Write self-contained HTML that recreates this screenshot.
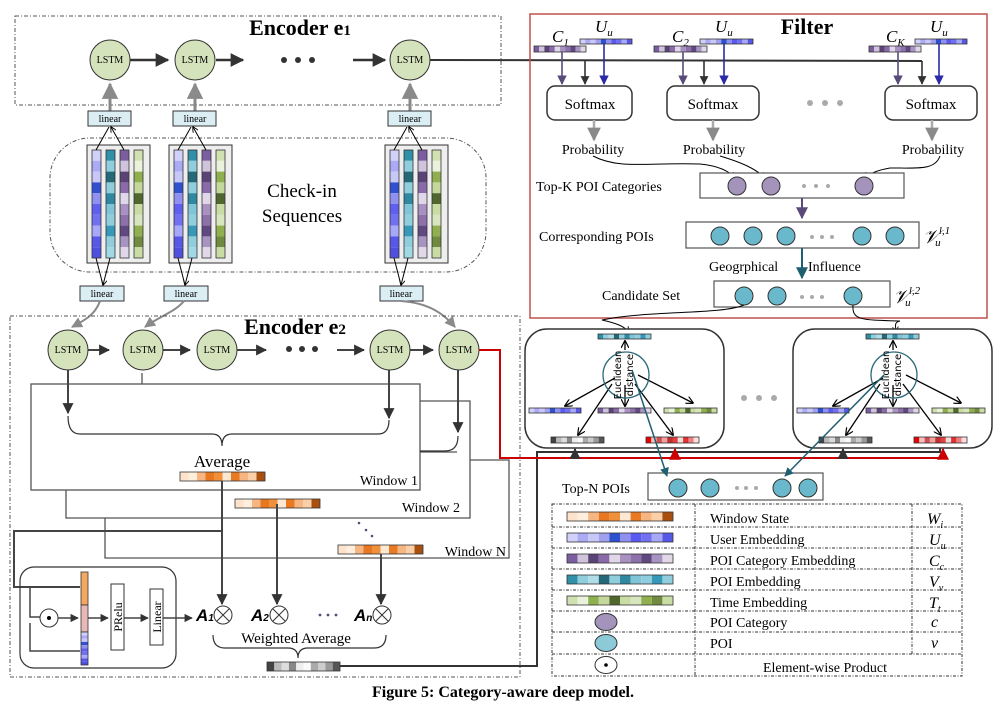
<!DOCTYPE html>
<html><head><meta charset="utf-8"><style>
body{margin:0;background:#fff}
svg{display:block;font-family:"Liberation Serif",serif}
</style></head><body>
<svg width="1006" height="711" viewBox="0 0 1006 711" xmlns="http://www.w3.org/2000/svg">
<defs>
<marker id="mk" viewBox="0 0 10 10" refX="9" refY="5" markerWidth="5.5" markerHeight="5.5" orient="auto"><path d="M0,0L10,5L0,10z" fill="#333"/></marker>
<marker id="mkg" viewBox="0 0 10 10" refX="9" refY="5" markerWidth="5.5" markerHeight="5.5" orient="auto"><path d="M0,0L10,5L0,10z" fill="#8a8a8a"/></marker>
<marker id="mkb" viewBox="0 0 10 10" refX="9" refY="5" markerWidth="6" markerHeight="6" orient="auto"><path d="M0,0L10,5L0,10z" fill="#2a2aa8"/></marker>
<marker id="mkp" viewBox="0 0 10 10" refX="9" refY="5" markerWidth="6" markerHeight="6" orient="auto"><path d="M0,0L10,5L0,10z" fill="#5a4a7a"/></marker>
<marker id="mkt" viewBox="0 0 10 10" refX="9" refY="5" markerWidth="6" markerHeight="6" orient="auto"><path d="M0,0L10,5L0,10z" fill="#1f5f6f"/></marker>
<marker id="mkr" viewBox="0 0 10 10" refX="9" refY="5" markerWidth="6" markerHeight="6" orient="auto"><path d="M0,0L10,5L0,10z" fill="#c00"/></marker>
<marker id="mks" viewBox="0 0 10 10" refX="9" refY="5" markerWidth="6" markerHeight="6" orient="auto"><path d="M0,0L10,5L0,10" fill="none" stroke="#000" stroke-width="1.5"/></marker>
<pattern id="pOr" patternUnits="objectBoundingBox" patternContentUnits="objectBoundingBox" width="1" height="1">
<rect width=".1" height="1" fill="#fde3cc"/><rect x=".1" width=".1" height="1" fill="#fdeedd"/><rect x=".2" width=".1" height="1" fill="#f7b581"/><rect x=".3" width=".1" height="1" fill="#e87722"/><rect x=".4" width=".1" height="1" fill="#f0903a"/><rect x=".5" width=".1" height="1" fill="#fde8d4"/><rect x=".6" width=".1" height="1" fill="#ea7a22"/><rect x=".7" width=".1" height="1" fill="#f7b581"/><rect x=".8" width=".1" height="1" fill="#fbd0a8"/><rect x=".9" width=".1" height="1" fill="#a94f10"/></pattern>
<pattern id="pBl" patternUnits="objectBoundingBox" patternContentUnits="objectBoundingBox" width="1" height="1">
<rect width=".1" height="1" fill="#d0d0f8"/><rect x=".1" width=".1" height="1" fill="#aaaaf5"/><rect x=".2" width=".1" height="1" fill="#c8c8f8"/><rect x=".3" width=".1" height="1" fill="#a0a0ee"/><rect x=".4" width=".1" height="1" fill="#2c50d0"/><rect x=".5" width=".1" height="1" fill="#9090f0"/><rect x=".6" width=".1" height="1" fill="#5a5af0"/><rect x=".7" width=".1" height="1" fill="#7070f0"/><rect x=".8" width=".1" height="1" fill="#a8a8f8"/><rect x=".9" width=".1" height="1" fill="#5858e8"/></pattern>
<pattern id="pPu" patternUnits="objectBoundingBox" patternContentUnits="objectBoundingBox" width="1" height="1">
<rect width=".1" height="1" fill="#7a5ea0"/><rect x=".1" width=".1" height="1" fill="#d0c4dc"/><rect x=".2" width=".1" height="1" fill="#5a4476"/><rect x=".3" width=".1" height="1" fill="#8a6aa8"/><rect x=".4" width=".1" height="1" fill="#e0d8e8"/><rect x=".5" width=".1" height="1" fill="#a890c0"/><rect x=".6" width=".1" height="1" fill="#8e70aa"/><rect x=".7" width=".1" height="1" fill="#604880"/><rect x=".8" width=".1" height="1" fill="#a894c0"/><rect x=".9" width=".1" height="1" fill="#e0d8e8"/></pattern>
<pattern id="pTe" patternUnits="objectBoundingBox" patternContentUnits="objectBoundingBox" width="1" height="1">
<rect width=".1" height="1" fill="#3090a8"/><rect x=".1" width=".1" height="1" fill="#90cede"/><rect x=".2" width=".1" height="1" fill="#b0dde8"/><rect x=".3" width=".1" height="1" fill="#256878"/><rect x=".4" width=".1" height="1" fill="#90cede"/><rect x=".5" width=".1" height="1" fill="#3088a0"/><rect x=".6" width=".1" height="1" fill="#80c4d8"/><rect x=".7" width=".1" height="1" fill="#90cede"/><rect x=".8" width=".1" height="1" fill="#3898b8"/><rect x=".9" width=".1" height="1" fill="#90cede"/></pattern>
<pattern id="pGr" patternUnits="objectBoundingBox" patternContentUnits="objectBoundingBox" width="1" height="1">
<rect width=".1" height="1" fill="#d0e0b0"/><rect x=".1" width=".1" height="1" fill="#eaf2dc"/><rect x=".2" width=".1" height="1" fill="#90b050"/><rect x=".3" width=".1" height="1" fill="#c4d89c"/><rect x=".4" width=".1" height="1" fill="#506830"/><rect x=".5" width=".1" height="1" fill="#c8dca4"/><rect x=".6" width=".1" height="1" fill="#d8e6c0"/><rect x=".7" width=".1" height="1" fill="#90b050"/><rect x=".8" width=".1" height="1" fill="#708a40"/><rect x=".9" width=".1" height="1" fill="#c8dca4"/></pattern>
<pattern id="pGy" patternUnits="objectBoundingBox" patternContentUnits="objectBoundingBox" width="1" height="1">
<rect width=".1" height="1" fill="#444"/><rect x=".1" width=".1" height="1" fill="#bbb"/><rect x=".2" width=".1" height="1" fill="#ddd"/><rect x=".3" width=".1" height="1" fill="#888"/><rect x=".4" width=".1" height="1" fill="#eee"/><rect x=".5" width=".1" height="1" fill="#fafafa"/><rect x=".6" width=".1" height="1" fill="#aaa"/><rect x=".7" width=".1" height="1" fill="#ccc"/><rect x=".8" width=".1" height="1" fill="#999"/><rect x=".9" width=".1" height="1" fill="#555"/></pattern>
<pattern id="pRd" patternUnits="objectBoundingBox" patternContentUnits="objectBoundingBox" width="1" height="1">
<rect width=".1" height="1" fill="#e00"/><rect x=".1" width=".1" height="1" fill="#f4c0c0"/><rect x=".2" width=".1" height="1" fill="#d05050"/><rect x=".3" width=".1" height="1" fill="#f0a0a0"/><rect x=".4" width=".1" height="1" fill="#c03030"/><rect x=".5" width=".1" height="1" fill="#e04040"/><rect x=".6" width=".1" height="1" fill="#fadada"/><rect x=".7" width=".1" height="1" fill="#e03030"/><rect x=".8" width=".1" height="1" fill="#f08080"/><rect x=".9" width=".1" height="1" fill="#fce0e0"/></pattern>
<pattern id="vBl" patternUnits="objectBoundingBox" patternContentUnits="objectBoundingBox" width="1" height="1">
<rect height=".1" width="1" fill="#d0d0f8"/><rect y=".1" height=".1" width="1" fill="#aaaaf5"/><rect y=".2" height=".1" width="1" fill="#c8c8f8"/><rect y=".3" height=".1" width="1" fill="#3050d0"/><rect y=".4" height=".1" width="1" fill="#9090f0"/><rect y=".5" height=".1" width="1" fill="#6060f0"/><rect y=".6" height=".1" width="1" fill="#7070f0"/><rect y=".7" height=".1" width="1" fill="#a8a8f8"/><rect y=".8" height=".1" width="1" fill="#5858e8"/><rect y=".9" height=".1" width="1" fill="#5050e0"/></pattern>
<pattern id="vTe" patternUnits="objectBoundingBox" patternContentUnits="objectBoundingBox" width="1" height="1">
<rect height=".1" width="1" fill="#3090a8"/><rect y=".1" height=".1" width="1" fill="#90cede"/><rect y=".2" height=".1" width="1" fill="#256878"/><rect y=".3" height=".1" width="1" fill="#90cede"/><rect y=".4" height=".1" width="1" fill="#3088a0"/><rect y=".5" height=".1" width="1" fill="#80c4d8"/><rect y=".6" height=".1" width="1" fill="#90cede"/><rect y=".7" height=".1" width="1" fill="#3898b8"/><rect y=".8" height=".1" width="1" fill="#90cede"/><rect y=".9" height=".1" width="1" fill="#a0d8e6"/></pattern>
<pattern id="vPu" patternUnits="objectBoundingBox" patternContentUnits="objectBoundingBox" width="1" height="1">
<rect height=".1" width="1" fill="#7a5ea0"/><rect y=".1" height=".1" width="1" fill="#d0c4dc"/><rect y=".2" height=".1" width="1" fill="#5a4476"/><rect y=".3" height=".1" width="1" fill="#8a6aa8"/><rect y=".4" height=".1" width="1" fill="#e0d8e8"/><rect y=".5" height=".1" width="1" fill="#a890c0"/><rect y=".6" height=".1" width="1" fill="#8e70aa"/><rect y=".7" height=".1" width="1" fill="#604880"/><rect y=".8" height=".1" width="1" fill="#a894c0"/><rect y=".9" height=".1" width="1" fill="#e0d8e8"/></pattern>
<pattern id="vGr" patternUnits="objectBoundingBox" patternContentUnits="objectBoundingBox" width="1" height="1">
<rect height=".1" width="1" fill="#d0e0b0"/><rect y=".1" height=".1" width="1" fill="#eaf2dc"/><rect y=".2" height=".1" width="1" fill="#90b050"/><rect y=".3" height=".1" width="1" fill="#c4d89c"/><rect y=".4" height=".1" width="1" fill="#506830"/><rect y=".5" height=".1" width="1" fill="#c8dca4"/><rect y=".6" height=".1" width="1" fill="#d8e6c0"/><rect y=".7" height=".1" width="1" fill="#90b050"/><rect y=".8" height=".1" width="1" fill="#708a40"/><rect y=".9" height=".1" width="1" fill="#c8dca4"/></pattern>
<g id="chk">
<rect x="0" y="0" width="63" height="118" fill="#eee" stroke="#333" stroke-width="1"/>
<rect x="5" y="5" width="9" height="108" fill="url(#vBl)" stroke="#333" stroke-width=".8"/>
<rect x="19" y="5" width="9" height="108" fill="url(#vTe)" stroke="#333" stroke-width=".8"/>
<rect x="33" y="5" width="9" height="108" fill="url(#vPu)" stroke="#333" stroke-width=".8"/>
<rect x="47" y="5" width="9" height="108" fill="url(#vGr)" stroke="#333" stroke-width=".8"/>
<path d="M9,5L22,-18M37,5L24,-18" stroke="#000" stroke-width="1" marker-end="url(#mks)"/>
<path d="M9,113L16,140M23,113L16,140" stroke="#000" stroke-width="1" marker-end="url(#mks)"/>
</g>
</defs>

<!-- Encoder e1 -->
<rect x="15" y="16" width="486" height="89" fill="none" stroke="#555" stroke-dasharray="4,2,1,2"/>
<text x="300" y="35" font-size="22" font-weight="bold" text-anchor="middle">Encoder e<tspan font-size="15">1</tspan></text>
<g stroke="#333" stroke-width="2.5">
<path d="M130,60L168,60" marker-end="url(#mk)"/>
<path d="M216,60L243,60" marker-end="url(#mk)"/>
<path d="M353,60L385,60" marker-end="url(#mk)"/>
</g>
<g fill="#333"><circle cx="284" cy="60" r="3"/><circle cx="298" cy="60" r="3"/><circle cx="312" cy="60" r="3"/></g>
<path d="M430,60L922,61" stroke="#333" stroke-width="2"/>
<g stroke="#888" stroke-width="3">
<path d="M110,111L110,84" marker-end="url(#mkg)"/>
<path d="M195,111L195,84" marker-end="url(#mkg)"/>
<path d="M410,111L410,84" marker-end="url(#mkg)"/>
</g>
<g fill="#d5e3bd" stroke="#333" stroke-width="1">
<circle cx="110" cy="60" r="20"/><circle cx="195" cy="60" r="20"/><circle cx="410" cy="60" r="20"/>
</g>
<g font-size="10" text-anchor="middle"><text x="110" y="63">LSTM</text><text x="195" y="63">LSTM</text><text x="410" y="63">LSTM</text></g>

<!-- linear boxes -->
<g fill="#dbeef4" stroke="#333" stroke-width="1">
<rect x="88" y="111" width="43" height="15"/><rect x="173" y="111" width="43" height="15"/><rect x="388" y="111" width="43" height="15"/>
<rect x="80" y="286" width="44" height="15"/><rect x="164" y="286" width="44" height="15"/><rect x="380" y="286" width="43" height="15"/>
</g>
<g font-size="10" text-anchor="middle">
<text x="110" y="122">linear</text><text x="195" y="122">linear</text><text x="410" y="122">linear</text>
<text x="102" y="297">linear</text><text x="186" y="297">linear</text><text x="401" y="297">linear</text>
</g>

<!-- check-in -->
<rect x="50" y="138" width="436" height="134" rx="40" fill="none" stroke="#555" stroke-dasharray="4,2,1,2"/>
<use href="#chk" x="87" y="145"/><use href="#chk" x="169" y="145"/><use href="#chk" x="385" y="145"/>
<text x="302" y="197" font-size="19" text-anchor="middle">Check-in</text>
<text x="302" y="222" font-size="19" text-anchor="middle">Sequences</text>

<!-- curved gray arrows -->
<g stroke="#888" stroke-width="2" fill="none">
<path d="M100,301C95,315 85,320 72,327" marker-end="url(#mkg)"/>
<path d="M184,301C175,312 160,316 145,327" marker-end="url(#mkg)"/>
<path d="M401,301C430,303 445,315 455,327" marker-end="url(#mkg)"/>
</g>

<!-- Encoder e2 -->
<rect x="10" y="316" width="510" height="361" fill="none" stroke="#555" stroke-dasharray="4,2,1,2"/>
<text x="295" y="334" font-size="22" font-weight="bold" text-anchor="middle">Encoder e<tspan font-size="15">2</tspan></text>
<!-- windows -->
<g fill="none" stroke="#555" stroke-width="1.3">
<rect x="31" y="384" width="389" height="106"/>
<path d="M420,401L470,401L470,518L66,518L66,490"/>
<path d="M420,452L457,452"/>
<path d="M470,460L509,460L509,558L105,558L105,518"/>
<path d="M142,373L142,384"/>
</g>
<g stroke="#444" stroke-width="2" fill="none">
<path d="M88,350L109,350" marker-end="url(#mk)"/>
<path d="M163,350L190,350" marker-end="url(#mk)"/>
<path d="M237,350L266,350" marker-end="url(#mk)"/>
<path d="M337,350L364,350" marker-end="url(#mk)"/>
<path d="M410,350L433,350" marker-end="url(#mk)"/>
<path d="M68,370L68,413" marker-end="url(#mk)"/>
<path d="M389,370L389,418" marker-end="url(#mk)"/>
<path d="M458,370L458,432" marker-end="url(#mk)"/>
</g>
<g fill="#333"><circle cx="289" cy="349" r="3"/><circle cx="302" cy="349" r="3"/><circle cx="315" cy="349" r="3"/></g>
<g fill="#d5e3bd" stroke="#333" stroke-width="1">
<circle cx="68" cy="350" r="20"/><circle cx="143" cy="350" r="20"/><circle cx="217" cy="350" r="20"/><circle cx="390" cy="350" r="20"/><circle cx="459" cy="350" r="20"/>
</g>
<g font-size="10" text-anchor="middle"><text x="68" y="353">LSTM</text><text x="143" y="353">LSTM</text><text x="217" y="353">LSTM</text><text x="390" y="353">LSTM</text><text x="459" y="353">LSTM</text></g>
<!-- braces -->
<g fill="none" stroke="#333" stroke-width="1.2">
<path d="M68,416Q68,434 80,434L212,434Q222,434 222,446Q222,434 232,434L378,434Q389,434 389,420"/>
<path d="M458,436Q458,451 445,451L420,451"/>
<path d="M213,635Q213,648 225,648L288,648Q298,648 298,658Q298,648 308,648L374,648Q386,648 386,635"/>
</g>
<text x="222" y="467" font-size="17" text-anchor="middle">Average</text>
<rect x="180" y="472" width="85" height="9" fill="url(#pOr)" stroke="#333" stroke-width=".8"/>
<text x="418" y="485" font-size="14" text-anchor="end">Window 1</text>
<rect x="235" y="499" width="85" height="9" fill="url(#pOr)" stroke="#333" stroke-width=".8"/>
<text x="460" y="512" font-size="14" text-anchor="end">Window 2</text>
<rect x="338" y="545" width="85" height="9" fill="url(#pOr)" stroke="#333" stroke-width=".8"/>
<text x="506" y="556" font-size="14" text-anchor="end">Window N</text>
<g fill="#5a4a7a"><circle cx="359" cy="523" r="1.3"/><circle cx="366" cy="530" r="1.3"/><circle cx="372" cy="536" r="1.3"/></g>
<g stroke="#444" stroke-width="2" fill="none">
<path d="M222,481L222,604" marker-end="url(#mk)"/>
<path d="M277,504L277,604" marker-end="url(#mk)"/>
<path d="M381,554L381,604" marker-end="url(#mk)"/>
<path d="M222,531L14,531L14,587L80,587"/>
</g>
<!-- multiply -->
<g fill="#fff" stroke="#333" stroke-width="1"><circle cx="223" cy="615" r="9"/><circle cx="279" cy="615" r="9"/><circle cx="382" cy="615" r="9"/></g>
<g stroke="#333" stroke-width="1"><path d="M217,609L229,621M229,609L217,621M273,609L285,621M285,609L273,621M376,609L388,621M388,609L376,621"/></g>
<g font-size="17" font-style="italic" font-family="Liberation Sans,sans-serif" font-weight="bold"><text x="196" y="621">A<tspan font-size="10">1</tspan></text><text x="251" y="621">A<tspan font-size="10">2</tspan></text><text x="354" y="621">A<tspan font-size="10">n</tspan></text></g>
<g fill="#5a4a7a"><circle cx="320" cy="615" r="1.4"/><circle cx="328" cy="615" r="1.4"/><circle cx="336" cy="615" r="1.4"/></g>
<text x="296" y="643" font-size="15" text-anchor="middle">Weighted Average</text>
<rect x="267" y="662" width="73" height="9" fill="url(#pGy)" stroke="#333" stroke-width=".8"/>

<!-- attention module -->
<rect x="20" y="567" width="156" height="101" rx="14" fill="none" stroke="#333" stroke-width="1.2"/>
<g fill="none" stroke="#444" stroke-width="1.5">
<path d="M30,587L30,617L40,617"/>
<path d="M30,623L30,651L80,651"/>
<path d="M58,618L78,618" marker-end="url(#mk)"/>
<path d="M87,618L108,618" marker-end="url(#mk)"/>
<path d="M122,618L148,618" marker-end="url(#mk)"/>
<path d="M162,618L192,618" marker-end="url(#mk)"/>
</g>
<circle cx="49" cy="618" r="9" fill="#fff" stroke="#333"/><circle cx="49" cy="618" r="2" fill="#000"/>
<rect x="81" y="572" width="7" height="33" style="fill:#f4a860" stroke="#333" stroke-width=".8"/>
<rect x="81" y="605" width="7" height="27" fill="#e8b8b8" stroke="#333" stroke-width=".8"/>
<rect x="81" y="632" width="7" height="33" fill="url(#vBl)" stroke="#333" stroke-width=".8"/>
<rect x="111" y="584" width="13" height="66" fill="#fff" stroke="#333"/>
<rect x="150" y="589" width="13" height="56" fill="#fff" stroke="#333"/>
<text transform="translate(122,617) rotate(-90)" font-size="12" text-anchor="middle">PRelu</text>
<text transform="translate(161,617) rotate(-90)" font-size="12" text-anchor="middle">Linear</text>

<!-- connections to right -->
<path d="M340,666L537,666L537,452L940,452L940,446" fill="none" stroke="#333" stroke-width="2"/>
<path d="M479,350L500,350L500,458L940,458" fill="none" stroke="#c00" stroke-width="2"/>

<!-- Filter -->
<rect x="530" y="14" width="457" height="304" fill="none" stroke="#c0504d" stroke-width="1.5"/>
<text x="807" y="34" font-size="22" font-weight="bold" text-anchor="middle">Filter</text>
<g font-size="17" font-style="italic">
<text x="552" y="42">C<tspan font-size="11" dy="4">1</tspan></text><text x="595" y="32">U<tspan font-size="11" dy="4">u</tspan></text>
<text x="672" y="42">C<tspan font-size="11" dy="4">2</tspan></text><text x="715" y="32">U<tspan font-size="11" dy="4">u</tspan></text>
<text x="886" y="42">C<tspan font-size="11" dy="4">K</tspan></text><text x="930" y="32">U<tspan font-size="11" dy="4">u</tspan></text>
</g>
<g stroke="#333" stroke-width=".8">
<rect x="534" y="46" width="52" height="6" fill="url(#pPu)"/><rect x="580" y="39" width="52" height="5" fill="url(#pBl)"/>
<rect x="654" y="46" width="53" height="6" fill="url(#pPu)"/><rect x="700" y="39" width="53" height="5" fill="url(#pBl)"/>
<rect x="869" y="46" width="52" height="6" fill="url(#pPu)"/><rect x="915" y="39" width="52" height="5" fill="url(#pBl)"/>
</g>
<g stroke-width="1.6" fill="none">
<path d="M562,52L562,84" stroke="#5a4a7a" marker-end="url(#mkp)"/><path d="M604,44L604,84" stroke="#2a2aa8" marker-end="url(#mkb)"/><path d="M585,61L585,84" stroke="#333" marker-end="url(#mk)"/>
<path d="M683,52L683,84" stroke="#5a4a7a" marker-end="url(#mkp)"/><path d="M724,44L724,84" stroke="#2a2aa8" marker-end="url(#mkb)"/><path d="M704,61L704,84" stroke="#333" marker-end="url(#mk)"/>
<path d="M898,52L898,84" stroke="#5a4a7a" marker-end="url(#mkp)"/><path d="M939,44L939,84" stroke="#2a2aa8" marker-end="url(#mkb)"/><path d="M922,61L922,84" stroke="#333" marker-end="url(#mk)"/>
</g>
<g fill="#fff" stroke="#333" stroke-width="1.5">
<rect x="547" y="86" width="85" height="34" rx="8"/><rect x="667" y="86" width="92" height="34" rx="8"/><rect x="885" y="86" width="92" height="34" rx="8"/>
</g>
<g font-size="15" text-anchor="middle"><text x="590" y="109">Softmax</text><text x="713" y="109">Softmax</text><text x="931" y="109">Softmax</text></g>
<g fill="#aaa"><circle cx="810" cy="103" r="3"/><circle cx="825" cy="103" r="3"/><circle cx="840" cy="103" r="3"/></g>
<g stroke="#aaa" stroke-width="2.5"><path d="M594,120L594,140" marker-end="url(#mkg)"/><path d="M713,120L713,140" marker-end="url(#mkg)"/><path d="M932,120L932,140" marker-end="url(#mkg)"/></g>
<g font-size="14" text-anchor="middle"><text x="593" y="154">Probability</text><text x="714" y="154">Probability</text><text x="933" y="154">Probability</text></g>
<g fill="none" stroke="#000" stroke-width="1">
<path d="M593,156C620,170 650,162 700,164C720,166 730,172 735,178" marker-end="url(#mks)"/>
<path d="M720,156C740,162 755,168 765,178" marker-end="url(#mks)"/>
<path d="M940,156C935,170 920,168 890,168C878,170 868,174 866,178" marker-end="url(#mks)"/>
</g>
<text x="536" y="191" font-size="14">Top-K POI Categories</text>
<rect x="700" y="173" width="204" height="25" fill="#fff" stroke="#555" stroke-width="1.2"/>
<g fill="#a494bc" stroke="#333"><circle cx="737" cy="186" r="9"/><circle cx="771" cy="186" r="9"/><circle cx="864" cy="186" r="9"/></g>
<g fill="#aaa"><circle cx="804" cy="186" r="2"/><circle cx="816" cy="186" r="2"/><circle cx="828" cy="186" r="2"/></g>
<path d="M802,198L802,218" stroke="#5a4a7a" stroke-width="2" marker-end="url(#mkp)"/>
<text x="539" y="241" font-size="14">Corresponding POIs</text>
<rect x="686" y="222" width="233" height="26" fill="#fff" stroke="#555" stroke-width="1.2"/>
<g fill="#6ab8cc" stroke="#333"><circle cx="720" cy="236" r="9"/><circle cx="753" cy="236" r="9"/><circle cx="786" cy="236" r="9"/><circle cx="862" cy="236" r="9"/><circle cx="895" cy="236" r="9"/></g>
<g fill="#aaa"><circle cx="812" cy="237" r="2"/><circle cx="822" cy="237" r="2"/><circle cx="832" cy="237" r="2"/></g>
<text x="923" y="243" font-size="19" font-style="italic">𝒱<tspan font-size="11" dy="-9">l,1</tspan><tspan font-size="11" dx="-15" dy="12">u</tspan></text>
<path d="M802,248L802,278" stroke="#1f5f6f" stroke-width="2" marker-end="url(#mkt)"/>
<text x="709" y="271" font-size="14">Geogrphical</text><text x="808" y="271" font-size="14">Influence</text>
<text x="602" y="300" font-size="14">Candidate Set</text>
<rect x="714" y="281" width="176" height="26" fill="#fff" stroke="#555" stroke-width="1.2"/>
<g fill="#6ab8cc" stroke="#333"><circle cx="744" cy="296" r="9"/><circle cx="777" cy="296" r="9"/><circle cx="853" cy="296" r="9"/></g>
<g fill="#aaa"><circle cx="802" cy="297" r="2"/><circle cx="812" cy="297" r="2"/><circle cx="822" cy="297" r="2"/></g>
<text x="893" y="303" font-size="19" font-style="italic">𝒱<tspan font-size="11" dy="-9">l,2</tspan><tspan font-size="11" dx="-15" dy="12">u</tspan></text>
<g fill="none" stroke="#000" stroke-width="1">
<path d="M744,305C720,315 650,310 602,320C615,323 625,326 628,332" marker-end="url(#mks)"/>
<path d="M853,305C852,320 860,320 900,321C895,322 895,324 896,332" marker-end="url(#mks)"/>
</g>

<!-- lower right modules -->
<g id="mod">
<rect x="525" y="329" width="199" height="119" rx="22" fill="#fff" stroke="#333" stroke-width="1.5"/>
<rect x="598" y="334" width="53" height="5" fill="url(#pTe)" stroke="#333" stroke-width=".8"/>
<rect x="529" y="408" width="52" height="5" fill="url(#pBl)" stroke="#333" stroke-width=".8"/>
<rect x="598" y="408" width="53" height="5" fill="url(#pPu)" stroke="#333" stroke-width=".8"/>
<rect x="664" y="408" width="53" height="5" fill="url(#pGr)" stroke="#333" stroke-width=".8"/>
<rect x="551" y="437" width="53" height="6" fill="url(#pGy)" stroke="#333" stroke-width=".8"/>
<rect x="646" y="437" width="53" height="6" fill="url(#pRd)" stroke="#333" stroke-width=".8"/>
<g stroke="#000" stroke-width="1.3" fill="none">
<path d="M625,350L625,341" marker-end="url(#mks)"/>
<path d="M615,378L565,406" marker-end="url(#mks)"/>
<path d="M625,385L625,406" marker-end="url(#mks)"/>
<path d="M638,375L693,403" marker-end="url(#mks)"/>
<path d="M612,384L578,435" marker-end="url(#mks)"/>
<path d="M635,384L673,435" marker-end="url(#mks)"/>
</g>
<circle cx="626" cy="375" r="23" fill="none" stroke="#2a6878" stroke-width="1.3"/>
<text transform="translate(621,375) rotate(-90)" font-size="10" font-family="DejaVu Sans,sans-serif" text-anchor="middle">Euclidean</text>
<text transform="translate(633,375) rotate(-90)" font-size="10" font-family="DejaVu Sans,sans-serif" text-anchor="middle">distance</text>
</g>
<use href="#mod" x="268" y="0"/>
<g fill="#aaa"><circle cx="744" cy="398" r="3"/><circle cx="759" cy="398" r="3"/><circle cx="774" cy="398" r="3"/></g>
<path d="M575,452L575,449" stroke="#333" stroke-width="2" marker-end="url(#mk)"/>
<path d="M843,452L843,449" stroke="#333" stroke-width="2" marker-end="url(#mk)"/>
<path d="M675,458L675,449" stroke="#c00" stroke-width="2" marker-end="url(#mkr)"/>
<path d="M943,458L943,449" stroke="#c00" stroke-width="2" marker-end="url(#mkr)"/>

<!-- Top-N -->
<text x="562" y="493" font-size="14">Top-N POIs</text>
<rect x="648" y="473" width="175" height="27" fill="#fff" stroke="#555" stroke-width="1.2"/>
<g fill="#6ab8cc" stroke="#333"><circle cx="678" cy="488" r="9"/><circle cx="710" cy="488" r="9"/><circle cx="782" cy="488" r="9"/><circle cx="808" cy="488" r="9"/></g>
<g fill="#aaa"><circle cx="737" cy="488" r="2"/><circle cx="746" cy="488" r="2"/><circle cx="756" cy="488" r="2"/></g>
<g stroke="#1f5f6f" stroke-width="1.5"><path d="M632,370L667,476" marker-end="url(#mkt)"/><path d="M884,375L785,476" marker-end="url(#mkt)"/></g>

<!-- legend -->
<g fill="none" stroke="#333" stroke-width="1" stroke-dasharray="3,1.5,1,1.5">
<rect x="552" y="504" width="410" height="172"/>
<path d="M552,527H962M552,548H962M552,569H962M552,590H962M552,611H962M552,632H962M552,654H962"/>
<path d="M695,504V676M912,504V654"/>
</g>
<g stroke="#333" stroke-width=".8">
<rect x="567" y="512" width="106" height="9" fill="url(#pOr)"/>
<rect x="567" y="533" width="106" height="9" fill="url(#pBl)"/>
<rect x="567" y="554" width="106" height="9" fill="url(#pPu)"/>
<rect x="567" y="575" width="106" height="9" fill="url(#pTe)"/>
<rect x="567" y="596" width="106" height="9" fill="url(#pGr)"/>
</g>
<ellipse cx="606" cy="622" rx="11" ry="8.5" fill="#a494bc" stroke="#333"/>
<ellipse cx="606" cy="643" rx="11" ry="8.5" fill="#8ccad8" stroke="#333"/>
<ellipse cx="606" cy="665" rx="11" ry="8.5" fill="#fff" stroke="#333"/><circle cx="606" cy="665" r="1.8" fill="#000"/>
<g font-size="14">
<text x="710" y="523">Window State</text><text x="710" y="544">User Embedding</text><text x="710" y="565">POI Category Embedding</text>
<text x="710" y="586">POI Embedding</text><text x="710" y="607">Time Embedding</text><text x="710" y="627">POI Category</text><text x="710" y="648">POI</text>
<text x="825" y="672" text-anchor="middle">Element-wise Product</text>
</g>
<g font-size="16" font-style="italic">
<text x="927" y="524">W<tspan font-size="10" dy="4">i</tspan></text><text x="929" y="545">U<tspan font-size="10" dy="4">u</tspan></text>
<text x="929" y="566">C<tspan font-size="10" dy="4">c</tspan></text><text x="929" y="587">V<tspan font-size="10" dy="4">v</tspan></text>
<text x="929" y="608">T<tspan font-size="10" dy="4">t</tspan></text><text x="931" y="627">c</text><text x="931" y="648">v</text>
</g>

<text x="503" y="697" font-size="16" font-weight="bold" text-anchor="middle">Figure 5: Category-aware deep model.</text>
</svg>
</body></html>
